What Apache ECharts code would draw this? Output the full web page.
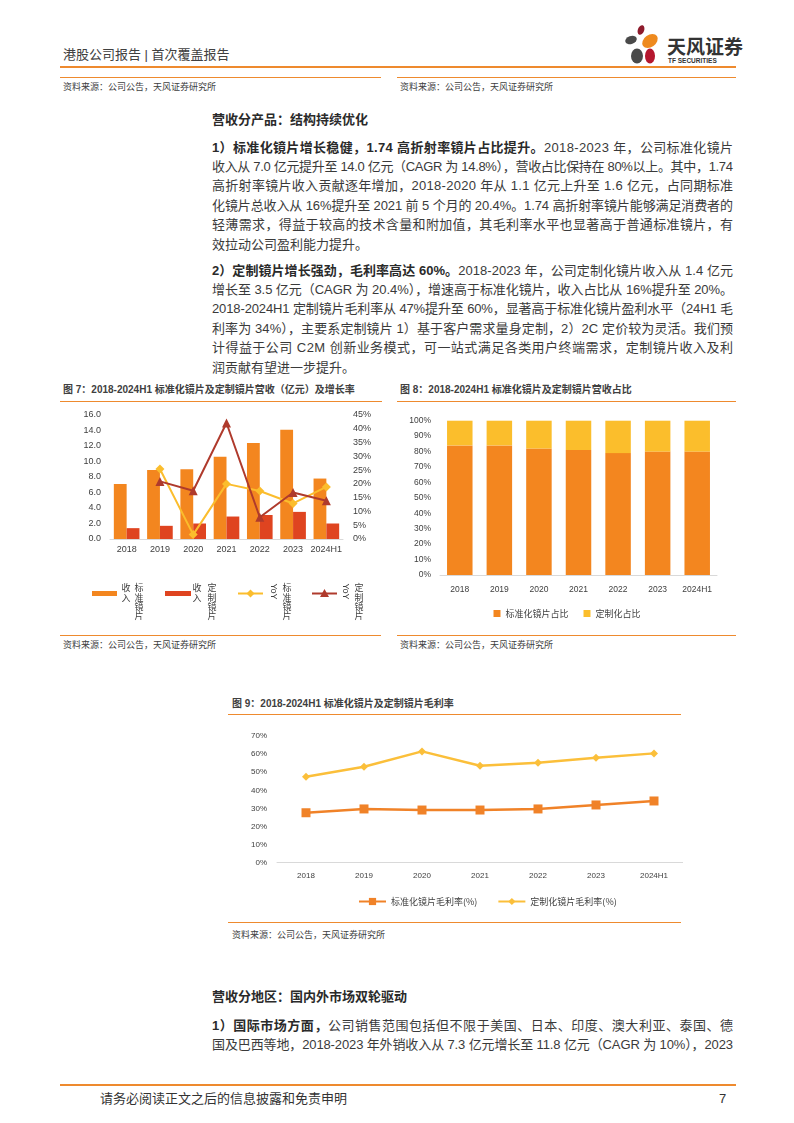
<!DOCTYPE html>
<html><head><meta charset="utf-8">
<script src="https://cdn.jsdelivr.net/npm/echarts@6.0.0/dist/echarts.min.js"></script>
<style>
html,body{margin:0;padding:0;background:#fff;}
#page{position:relative;width:794px;height:1123px;overflow:hidden;font-family:"Liberation Sans","Noto Sans CJK SC",sans-serif;color:#3a3a3a;}
.abs{position:absolute;white-space:nowrap;}
.hline{position:absolute;background:#EE8A2E;}
.src{font-size:9px;color:#404040;line-height:12px;}
.ftitle{font-size:10px;font-weight:bold;color:#404040;line-height:14px;}
.body{font-size:13px;line-height:19px;color:#3a3a3a;}
.b{font-weight:bold;color:#2a2a2a;}
.chart{position:absolute;}
</style></head>
<body>
<div id="page">
  <div class="abs" style="left:63px;top:46px;font-size:13px;color:#404040;line-height:18px;">港股公司报告 | 首次覆盖报告</div>
  <svg class="abs" style="left:620px;top:20px" width="50" height="50">
    <ellipse cx="21" cy="10" rx="3.2" ry="5" fill="#8E1B2C" transform="rotate(20 21 10)"/>
    <ellipse cx="11" cy="20" rx="6" ry="4" fill="#4A4A4A" transform="rotate(-20 11 20)"/>
    <ellipse cx="30" cy="21" rx="8.5" ry="6" fill="#EE8A1E" transform="rotate(-35 30 21)"/>
    <ellipse cx="17" cy="36" rx="6" ry="7.5" fill="#4A4A4A"/>
    <ellipse cx="30" cy="36" rx="5" ry="7.5" fill="#B5172E"/>
  </svg>
  <div class="abs" style="left:667px;top:35px;font-size:19px;font-weight:bold;color:#333;line-height:22px;font-family:'Noto Sans CJK SC'">天风证券</div>
  <div class="abs" style="left:668px;top:57px;font-size:6.5px;font-weight:bold;color:#333;line-height:8px;">TF SECURITIES</div>
  <div class="hline" style="left:60px;top:66px;width:676px;height:2px;"></div>

  <div class="hline" style="left:60px;top:77px;width:321px;height:1px;"></div>
  <div class="hline" style="left:397px;top:77px;width:339px;height:1px;"></div>
  <div class="abs src" style="left:63px;top:81px;">资料来源：公司公告，天风证券研究所</div>
  <div class="abs src" style="left:400px;top:81px;">资料来源：公司公告，天风证券研究所</div>

  <div class="abs ftitle" style="left:63px;top:383px;">图 7：2018-2024H1 标准化镜片及定制镜片营收（亿元）及增长率</div>
  <div class="hline" style="left:60px;top:401px;width:322px;height:1px;"></div>
  <div class="abs ftitle" style="left:400px;top:383px;">图 8：2018-2024H1 标准化镜片及定制镜片营收占比</div>
  <div class="hline" style="left:397px;top:401px;width:339px;height:1px;"></div>

  <div id="c7" class="chart" style="left:60px;top:403px;width:325px;height:225px;"></div>
  <div id="c8" class="chart" style="left:397px;top:403px;width:340px;height:225px;"></div>

  <div class="hline" style="left:60px;top:635px;width:321px;height:1px;"></div>
  <div class="hline" style="left:397px;top:635px;width:339px;height:1px;"></div>
  <div class="abs src" style="left:63px;top:639px;">资料来源：公司公告，天风证券研究所</div>
  <div class="abs src" style="left:400px;top:639px;">资料来源：公司公告，天风证券研究所</div>

  <div class="abs ftitle" style="left:232px;top:697px;">图 9：2018-2024H1 标准化镜片及定制镜片毛利率</div>
  <div class="hline" style="left:228px;top:714px;width:453px;height:1px;"></div>
  <div id="c9" class="chart" style="left:228px;top:716px;width:455px;height:200px;"></div>
  <div class="hline" style="left:228px;top:922px;width:453px;height:1px;"></div>
  <div class="abs src" style="left:232px;top:929px;">资料来源：公司公告，天风证券研究所</div>

  <div class="hline" style="left:60px;top:1084px;width:676px;height:2px;"></div>
  <div class="abs" style="left:100px;top:1090px;font-size:13px;color:#333;line-height:17px;">请务必阅读正文之后的信息披露和免责申明</div>
  <div class="abs" style="left:719px;top:1090px;font-size:13px;color:#333;line-height:17px;">7</div>
</div>
<script>
// ---------- chart data ----------
const years = ['2018','2019','2020','2021','2022','2023','2024H1'];
// Fig 7: revenue (亿元) and YoY (%)
const stdRevenue = [7.1, 8.9, 9.0, 10.6, 12.4, 14.1, 7.8];
const customRevenue = [1.4, 1.7, 2.0, 2.9, 3.1, 3.5, 2.0];
const stdYoY = [null, 25.4, 1.6, 20.0, 17.4, 12.9, 18.9];
const customYoY = [null, 20.9, 17.5, 42.1, 7.9, 16.9, 13.9];
const fig7Names = ['标准镜片收入', '定制镜片收入', '标准镜片YoY', '定制镜片YoY'];
const fig7LeftTicks = [0, 16, 2];
const fig7RightTicks = [0, 45, 5];
// Fig 8: revenue share (%)
const stdShare = [84, 84, 82, 81, 79, 80, 80];
const customShare = [16, 16, 18, 19, 21, 20, 20];
const fig8Names = ['标准化镜片占比', '定制化占比'];
// Fig 9: gross margin (%)
const stdMargin = [27.6, 29.7, 29.1, 29.1, 29.7, 31.9, 34.1];
const customMargin = [47.5, 53.0, 61.5, 53.6, 55.2, 58.0, 60.4];
const fig9Names = ['标准化镜片毛利率(%)', '定制化镜片毛利率(%)'];

// ---------- body text ----------
const para1 = [
  '<span class="b">1）标准化镜片增长稳健，1.74 高折射率镜片占比提升。</span>2018-2023 年，公司标准化镜片',
  '收入从 7.0 亿元提升至 14.0 亿元（CAGR 为 14.8%），营收占比保持在 80%以上。其中，1.74',
  '高折射率镜片收入贡献逐年增加，2018-2020 年从 1.1 亿元上升至 1.6 亿元，占同期标准',
  '化镜片总收入从 16%提升至 2021 前 5 个月的 20.4%。1.74 高折射率镜片能够满足消费者的',
  '轻薄需求，得益于较高的技术含量和附加值，其毛利率水平也显著高于普通标准镜片，有',
  '效拉动公司盈利能力提升。'
];
const para2 = [
  '<span class="b">2）定制镜片增长强劲，毛利率高达 60%。</span>2018-2023 年，公司定制化镜片收入从 1.4 亿元',
  '增长至 3.5 亿元（CAGR 为 20.4%），增速高于标准化镜片，收入占比从 16%提升至 20%。',
  '2018-2024H1 定制镜片毛利率从 47%提升至 60%，显著高于标准化镜片盈利水平（24H1 毛',
  '利率为 34%），主要系定制镜片 1）基于客户需求量身定制，2）2C 定价较为灵活。我们预',
  '计得益于公司 C2M 创新业务模式，可一站式满足各类用户终端需求，定制镜片收入及利',
  '润贡献有望进一步提升。'
];
const para3 = [
  '<span class="b">1）国际市场方面，</span>公司销售范围包括但不限于美国、日本、印度、澳大利亚、泰国、德',
  '国及巴西等地，2018-2023 年外销收入从 7.3 亿元增长至 11.8 亿元（CAGR 为 10%），2023'
];
const page = document.getElementById('page');
const TEXT_X = 212, TEXT_W = 521, LH = 19.4;
function addLine(html, yc, justify, cls) {
  const d = document.createElement('div');
  d.className = 'abs ' + (cls || 'body');
  d.style.left = TEXT_X + 'px';
  d.style.top = (yc - 9.5) + 'px';
  d.innerHTML = html;
  page.appendChild(d);
  if (justify) {
    const w = d.getBoundingClientRect().width;
    const n = d.textContent.length;
    if (n > 1) d.style.letterSpacing = ((TEXT_W - w) / (n - 1)) + 'px';
  }
}
addLine('<span class="b">营收分产品：结构持续优化</span>', 119, false);
para1.forEach((t, i) => addLine(t, 147 + i * LH, i < para1.length - 1));
para2.forEach((t, i) => addLine(t, 270 + i * LH, i < para2.length - 1));
addLine('<span class="b">营收分地区：国内外市场双轮驱动</span>', 996, false);
para3.forEach((t, i) => addLine(t, 1025 + i * LH, true));

// ---------- common styles ----------
const FONT = '"Liberation Sans","Noto Sans CJK SC",sans-serif';
const LABEL = '#404040';
const ORANGE = '#F3861F', RED = '#DF4420', YELLOW = '#FBBD2D', DARKRED = '#AF3A2C';

// ---------- Fig 7 ----------
const c7 = echarts.init(document.getElementById('c7'), null, {renderer: 'canvas'});
const g7 = [];
function vchars(str, x, y0) {
  str.split('').forEach((c, i) => g7.push({type: 'text', x: x, y: y0 + i * 9.2,
    style: {text: c, fill: LABEL, font: '9px "Noto Sans CJK SC"', align: 'center', verticalAlign: 'middle'}}));
}
// legend item 1 & 2 (bars)
g7.push({type: 'rect', shape: {x: 32, y: 188, width: 25, height: 5}, style: {fill: ORANGE}});
vchars(fig7Names[0].slice(4), 66, 185); vchars(fig7Names[0].slice(0, 4), 79, 185);
g7.push({type: 'rect', shape: {x: 105, y: 188, width: 26, height: 5}, style: {fill: RED}});
vchars(fig7Names[1].slice(4), 137, 185); vchars(fig7Names[1].slice(0, 4), 152, 185);
// legend item 3 & 4 (lines)
g7.push({type: 'line', shape: {x1: 178, y1: 190.5, x2: 203, y2: 190.5}, style: {stroke: YELLOW, lineWidth: 2}});
g7.push({type: 'polygon', shape: {points: [[190.5, 186.5], [194.5, 190.5], [190.5, 194.5], [186.5, 190.5]]}, style: {fill: YELLOW}});
g7.push({type: 'text', x: 213, y: 188.5, rotation: -Math.PI / 2,
  style: {text: fig7Names[2].slice(4), fill: LABEL, font: '9px "Liberation Sans"', align: 'center', verticalAlign: 'middle'}});
vchars(fig7Names[2].slice(0, 4), 227, 185);
g7.push({type: 'line', shape: {x1: 252, y1: 190.5, x2: 277, y2: 190.5}, style: {stroke: DARKRED, lineWidth: 2}});
g7.push({type: 'polygon', shape: {points: [[264.5, 186], [269, 194], [260, 194]]}, style: {fill: DARKRED}});
g7.push({type: 'text', x: 285, y: 188.5, rotation: -Math.PI / 2,
  style: {text: fig7Names[3].slice(4), fill: LABEL, font: '9px "Liberation Sans"', align: 'center', verticalAlign: 'middle'}});
vchars(fig7Names[3].slice(0, 4), 299, 185);

c7.setOption({
  animation: false,
  textStyle: {fontFamily: FONT},
  grid: {left: 50, top: 12, width: 233, height: 124, containLabel: false},
  xAxis: {type: 'category', data: years,
    axisLine: {lineStyle: {color: '#D9D9D9', width: 1}}, axisTick: {show: false},
    axisLabel: {fontSize: 9, color: LABEL, margin: 6, interval: 0}},
  yAxis: [
    {type: 'value', min: fig7LeftTicks[0], max: fig7LeftTicks[1], interval: fig7LeftTicks[2],
      axisLabel: {fontSize: 9, color: LABEL, margin: 9, formatter: v => v.toFixed(1)},
      splitLine: {show: false}, axisLine: {show: false}, axisTick: {show: false}},
    {type: 'value', min: fig7RightTicks[0], max: fig7RightTicks[1], interval: fig7RightTicks[2],
      axisLabel: {fontSize: 9, color: LABEL, margin: 10, formatter: '{value}%'},
      splitLine: {show: false}, axisLine: {show: false}, axisTick: {show: false}}
  ],
  series: [
    {name: fig7Names[0], type: 'bar', data: stdRevenue, itemStyle: {color: ORANGE}, barGap: '0%', barCategoryGap: '23%'},
    {name: fig7Names[1], type: 'bar', data: customRevenue, itemStyle: {color: RED}, barGap: '0%', barCategoryGap: '23%'},
    {name: fig7Names[2], type: 'line', yAxisIndex: 1, data: stdYoY, symbol: 'diamond', symbolSize: 9,
      lineStyle: {color: YELLOW, width: 2}, itemStyle: {color: YELLOW}, z: 5},
    {name: fig7Names[3], type: 'line', yAxisIndex: 1, data: customYoY, symbol: 'triangle', symbolSize: 9,
      lineStyle: {color: DARKRED, width: 2}, itemStyle: {color: DARKRED}, z: 6}
  ],
  graphic: g7
});

// ---------- Fig 8 ----------
const c8 = echarts.init(document.getElementById('c8'));
c8.setOption({
  animation: false,
  textStyle: {fontFamily: FONT},
  grid: {left: 43, top: 17.7, width: 277, height: 154.3, containLabel: false},
  xAxis: {type: 'category', data: years,
    axisLine: {lineStyle: {color: '#D9D9D9'}}, axisTick: {show: false},
    axisLabel: {fontSize: 8.5, color: LABEL, margin: 10, interval: 0}},
  yAxis: {type: 'value', min: 0, max: 100, interval: 10,
    axisLabel: {fontSize: 8.5, color: LABEL, margin: 9, formatter: '{value}%'},
    splitLine: {show: false}, axisLine: {show: false}, axisTick: {show: false}},
  legend: {data: fig8Names, left: 'center', top: 201, icon: 'rect', itemWidth: 7, itemHeight: 7, itemGap: 15,
    textStyle: {fontSize: 9, color: LABEL, fontFamily: '"Noto Sans CJK SC"'}},
  series: [
    {name: fig8Names[0], type: 'bar', stack: 's', data: stdShare, barWidth: 25.5, itemStyle: {color: ORANGE}},
    {name: fig8Names[1], type: 'bar', stack: 's', data: customShare, barWidth: 25.5, itemStyle: {color: '#FBBE2C'}}
  ]
});

// ---------- Fig 9 ----------
const c9 = echarts.init(document.getElementById('c9'));
c9.setOption({
  animation: false,
  textStyle: {fontFamily: FONT},
  grid: {left: 49, top: 20, width: 406, height: 126.7, containLabel: false},
  xAxis: {type: 'category', data: years,
    axisLine: {lineStyle: {color: '#D9D9D9'}}, axisTick: {show: false},
    axisLabel: {fontSize: 8, color: LABEL, margin: 9, interval: 0}},
  yAxis: {type: 'value', min: 0, max: 70, interval: 10,
    axisLabel: {fontSize: 8, color: LABEL, margin: 10, formatter: '{value}%'},
    splitLine: {show: false}, axisLine: {show: false}, axisTick: {show: false}},
  legend: {data: fig9Names, left: 125, top: 176, itemWidth: 27, itemHeight: 9, itemGap: 20,
    textStyle: {fontSize: 9, color: LABEL, fontFamily: '"Noto Sans CJK SC"'}},
  series: [
    {name: fig9Names[0], type: 'line', data: stdMargin, symbol: 'rect', symbolSize: 9,
      lineStyle: {color: '#F08228', width: 2.5}, itemStyle: {color: '#F08228'}},
    {name: fig9Names[1], type: 'line', data: customMargin, symbol: 'diamond', symbolSize: 8,
      lineStyle: {color: '#FBBF3A', width: 2.5}, itemStyle: {color: '#FBBF3A'}}
  ]
});
</script>
</body></html>
